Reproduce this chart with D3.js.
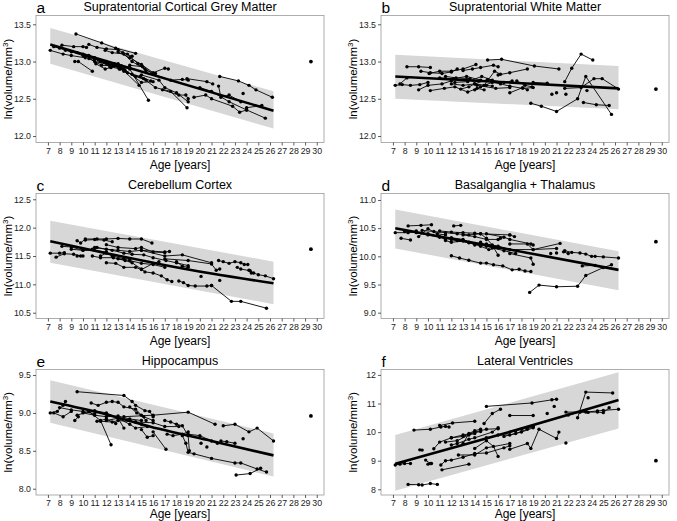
<!DOCTYPE html>
<html><head><meta charset="utf-8">
<script src="https://cdn.jsdelivr.net/npm/d3@7"></script>
<style>body{margin:0;background:#fff}svg{display:block;font-family:"Liberation Sans",Arial,Helvetica,sans-serif}</style>
</head><body><svg id="c" width="677" height="521"></svg>
<script>
// ---------- DATA ----------
const titles = ["Supratentorial Cortical Grey Matter","Supratentorial White Matter","Cerebellum Cortex","Basalganglia + Thalamus","Hippocampus","Lateral Ventricles"];
const letters = ["a","b","c","d","e","f"];
const xTickValues = [7,8,9,10,11,12,13,14,15,16,17,18,19,20,21,22,23,24,25,26,27,28,29,30];
const yTicksA = [12.0,12.5,13.0,13.5];
const yTicksB = [12.0,12.5,13.0,13.5];
const yTicksC = [10.5,11.0,11.5,12.0,12.5];
const yTicksD = [9.0,9.5,10.0,10.5,11.0];
const yTicksE = [8.0,8.5,9.0,9.5];
const yTicksF = [8,9,10,11,12];

// ribbon: [age, upper, lower]
const ribbonA = [[7.2,13.45,12.97],[26.3,12.60,12.10]];
const ribbonB = [[7.2,13.09,12.50],[26.3,12.94,12.36]];
const ribbonC = [[7.2,12.12,11.38],[26.3,11.40,10.65]];
const ribbonD = [[7.2,10.83,10.14],[26.3,10.09,9.40]];
const ribbonE = [[7.2,9.43,8.87],[26.3,8.73,8.16]];
const ribbonF = [[7.2,9.90,7.95],[26.3,12.09,10.13]];

const fitA = [[7.2,13.23],[26.3,12.34]];
const fitB = [[7.2,12.80],[26.3,12.64]];
const fitC = [[7.2,11.76],[12,11.55],[16.5,11.36],[21,11.19],[26.3,11.02]];
const fitD = [[7.2,10.50],[26.3,9.76]];
const fitE = [[7.2,9.15],[12,8.98],[16.5,8.79],[21,8.63],[26.3,8.44]];
const fitF = [[7.2,8.89],[16.5,9.95],[26.3,11.12]];

const outlierA = [29.5,13.0];
const outlierB = [29.5,12.63];
const outlierC = [29.5,11.62];
const outlierD = [29.5,10.26];
const outlierE = [29.5,8.96];
const outlierF = [29.5,9.0];

const subjectsA = [
 [[7.2,13.15],[8.3,13.1],[9.0,13.08],[10.2,13.05]],
 [[8.2,13.22],[9.2,13.2],[10.0,13.2],[10.3,13.19]],
 [[9.4,13.37],[11.6,13.25],[12.8,13.18],[14.5,13.11]],
 [[10.5,13.23],[11.2,13.19],[12.0,13.17],[13.0,13.16],[13.4,13.12],[14.2,13.07]],
 [[9.3,13.0],[9.6,13.0],[10.8,12.87]],
 [[10.0,13.1],[11.0,13.0],[12.5,12.95],[14.0,12.9],[15.6,12.48]],
 [[11.0,13.05],[12.0,13.0],[13.0,12.95],[14.8,12.68]],
 [[8.5,13.15],[9.5,13.12],[10.5,13.08],[11.8,13.0]],
 [[11.5,13.0],[12.3,12.93],[13.2,12.9],[14.5,12.8],[15.4,12.75]],
 [[12.0,12.98],[13.5,12.9],[15.0,12.72],[16.0,12.73]],
 [[10.2,13.08],[11.3,13.02],[12.2,12.97],[13.3,12.94],[14.0,12.92]],
 [[12.6,12.95],[13.8,12.85],[15.2,12.77],[16.2,12.65],[17.5,12.6],[18.9,12.38]],
 [[13.0,13.13],[14.0,13.05],[15.0,12.96],[16.0,12.85],[17.0,12.91],[17.3,12.9]],
 [[11.9,13.15],[12.5,13.12],[13.5,13.1],[14.2,13.0],[15.3,12.9]],
 [[14.0,12.95],[15.1,12.93],[16.0,12.83],[17.5,12.75],[18.5,12.76],[19.0,12.75]],
 [[15.0,12.82],[16.5,12.75],[17.0,12.65],[18.0,12.58],[19.0,12.46]],
 [[16.8,12.62],[18.2,12.55],[18.8,12.55],[19.0,12.5]],
 [[18.9,12.77],[20.6,12.73],[21.1,12.7]],
 [[19.5,12.52],[20.5,12.55],[21.0,12.5],[22.8,12.4],[23.4,12.32],[24.0,12.35]],
 [[21.7,12.8],[23.3,12.74],[24.2,12.68],[24.8,12.62],[26.2,12.52]],
 [[21.6,12.67],[21.8,12.52],[22.5,12.55],[23.5,12.46]],
 [[20.0,12.65],[21.0,12.6],[22.5,12.46],[24.0,12.35],[25.6,12.24]],
 [[24.0,12.38],[25.3,12.41]],
 [[23.7,12.57]],
 [[7.5,13.2],[8.0,13.18],[9.0,13.13],[10.0,13.08],[11.0,13.03]],
 [[11.1,12.97],[11.9,12.9],[12.4,12.92],[13.0,12.97],[13.6,12.88]],
 [[12.7,12.97],[13.5,12.87],[14.2,12.83],[14.9,12.8],[15.8,12.74]],
 [[10.5,13.04],[11.6,12.95],[12.7,12.94],[13.1,12.9]],
 [[13.8,13.1],[14.7,12.97],[15.4,12.88],[16.2,12.84]]
];

const subjectsB = [
 [[7.2,12.68],[7.8,12.69],[8.5,12.68],[9.3,12.69],[10.0,12.72]],
 [[8.2,12.93],[9.2,12.93],[10.2,12.92]],
 [[7.6,12.7],[8.2,12.78]],
 [[9.4,12.87],[10.2,12.85],[11.2,12.84],[12.0,12.86],[12.5,12.9]],
 [[10.1,12.84],[11.0,12.87],[12.0,12.87],[13.0,12.9],[14.1,12.96]],
 [[15.1,13.02],[16.3,13.03],[19.1,12.94],[21.2,12.9]],
 [[9.2,12.62],[10.0,12.68],[11.2,12.7],[12.0,12.74]],
 [[10.2,12.61],[11.4,12.64],[12.3,12.66],[13.4,12.59],[14.2,12.64],[14.8,12.62]],
 [[11.0,12.78],[12.2,12.77],[13.3,12.8],[14.5,12.75],[15.5,12.73]],
 [[12.0,12.7],[13.0,12.68],[14.0,12.7],[15.1,12.76],[16.5,12.72],[17.2,12.74]],
 [[13.0,12.88],[13.8,12.9],[14.5,12.92],[15.6,12.95],[16.0,12.93]],
 [[11.5,12.8],[12.4,12.78],[13.6,12.77],[14.2,12.68],[15.8,12.64],[17.0,12.65]],
 [[12.8,12.63],[13.5,12.66],[14.0,12.7],[15.0,12.68],[15.5,12.67]],
 [[14.0,12.62],[14.5,12.66],[15.5,12.72],[16.2,12.7],[17.0,12.67],[18.1,12.64],[19.0,12.65]],
 [[16.0,12.82],[17.0,12.85],[18.5,12.9]],
 [[17.0,12.58],[18.1,12.65],[18.5,12.62]],
 [[18.8,12.44],[19.7,12.4],[21.0,12.33],[22.8,12.5],[23.5,12.8],[25.7,12.29]],
 [[21.7,12.73],[22.3,12.91],[23.1,13.1],[24.1,13.02]],
 [[23.3,12.45],[24.4,12.42],[25.5,12.41]],
 [[21.7,12.64],[23.1,12.65],[24.2,12.77],[24.9,12.77],[26.3,12.63]],
 [[19.0,12.72],[20.2,12.71]],
 [[20.6,12.56]],[[21.0,12.58]],[[21.8,12.56]],[[23.6,12.61]],
 [[17.6,12.74],[18.3,12.68],[18.9,12.66]],
 [[12.3,12.72],[13.4,12.73],[14.6,12.8],[15.5,12.75]],
 [[14.8,12.68],[15.7,12.87],[16.2,12.83]]
];

const subjectsC = [
 [[7.2,11.55],[8.0,11.55],[8.4,11.56]],
 [[7.7,11.48],[8.4,11.54],[9.2,11.53],[9.8,11.5]],
 [[8.2,11.67],[9.0,11.66],[10.0,11.6],[10.8,11.62]],
 [[9.5,11.77],[9.8,11.73],[10.2,11.8],[11.2,11.8],[12.0,11.8],[13.0,11.81],[14.0,11.8],[15.0,11.8],[15.9,11.73]],
 [[10.2,11.78],[11.0,11.79],[11.8,11.78],[12.5,11.75]],
 [[9.5,11.5],[10.0,11.5]],
 [[10.8,11.5],[11.5,11.47],[12.6,11.47],[13.6,11.42],[14.2,11.38],[15.0,11.27],[15.3,11.22],[16.0,11.2],[16.7,11.15],[17.2,11.08],[17.6,11.05]],
 [[18.2,11.06],[18.6,11.03],[19.0,10.98],[19.6,10.97],[20.6,10.97],[21.0,10.98]],
 [[21.0,10.98],[22.7,10.7],[23.5,10.7],[25.7,10.58]],
 [[12.0,11.38],[12.8,11.37],[13.5,11.3],[14.5,11.3],[15.0,11.26],[16.0,11.37],[16.5,11.4]],
 [[11.0,11.65],[12.0,11.62],[13.0,11.6],[14.0,11.58],[15.0,11.6],[17.0,11.57],[17.4,11.58]],
 [[12.0,11.7],[13.0,11.65],[14.5,11.63],[15.0,11.65],[16.0,11.57],[17.0,11.56]],
 [[15.0,11.6],[17.0,11.5],[18.5,11.52],[21.0,11.38]],
 [[17.0,11.45],[19.0,11.42],[21.0,11.36],[21.4,11.25],[21.7,11.27]],
 [[21.6,11.42],[22.0,11.4],[22.5,11.37],[23.0,11.4],[23.5,11.38],[23.8,11.35],[24.1,11.35]],
 [[23.2,11.3],[23.5,11.27],[24.3,11.24],[24.6,11.2],[25.0,11.17],[25.6,11.15],[26.3,11.1]],
 [[24.2,11.25],[24.4,11.2]],
 [[21.7,11.07]],[[20.1,11.14]],
 [[11.2,11.65],[12.5,11.6],[13.5,11.55],[14.2,11.53],[15.2,11.52],[16.0,11.47],[17.1,11.42],[18.0,11.38],[19.0,11.33]],
 [[13.0,11.45],[14.0,11.42],[15.0,11.37],[16.0,11.35],[17.0,11.3]],
 [[11.5,11.5],[12.0,11.55],[12.5,11.5],[13.5,11.45],[14.0,11.45]],
 [[9.0,11.62],[10.0,11.6],[11.0,11.6],[12.0,11.57]],
 [[18.0,11.4],[18.5,11.32],[19.0,11.3]]
];

const subjectsD = [
 [[7.2,10.42],[8.3,10.42],[9.0,10.45]],
 [[7.7,10.32],[8.5,10.29]],
 [[8.3,10.54],[9.4,10.55],[10.3,10.56]],
 [[9.2,10.35],[10.0,10.49],[10.8,10.4],[11.5,10.38]],
 [[12.0,10.01],[12.7,9.97],[13.5,9.93],[14.5,9.88],[15.0,9.88],[15.6,9.85],[16.4,9.83],[17.2,9.76],[17.8,9.77],[18.3,9.74],[18.8,9.73]],
 [[12.2,10.54],[12.8,10.55]],
 [[18.7,9.36],[19.5,9.49],[21.0,9.46],[22.8,9.47],[23.5,9.66],[25.0,9.8],[25.7,9.85]],
 [[21.7,10.1],[22.3,10.07],[23.0,10.06],[23.5,10.04],[24.0,10.0],[24.3,10.0],[25.0,9.99],[26.3,9.97]],
 [[21.6,10.08],[22.0,10.05]],
 [[23.2,9.83],[24.3,9.84]],
 [[17.0,10.38],[17.4,10.35]],
 [[17.0,10.22],[18.5,10.22],[19.0,10.12],[21.3,10.23]],
 [[17.0,10.05],[18.8,9.97],[19.0,9.86]],
 [[20.5,10.05]],[[21.0,10.06]],
 [[11.0,10.45],[12.0,10.43],[13.0,10.42],[14.0,10.41],[14.5,10.4],[15.0,10.32],[15.5,10.2],[16.0,10.02]],
 [[10.0,10.4],[11.0,10.35],[12.0,10.3],[12.5,10.28],[13.5,10.25],[14.5,10.18],[15.2,10.12],[16.0,10.15]],
 [[13.0,10.38],[14.0,10.35],[15.0,10.3],[16.0,10.3],[16.2,10.32]],
 [[9.5,10.46],[10.5,10.44],[11.5,10.42],[12.5,10.4],[13.5,10.38],[14.5,10.4],[17.0,10.38]],
 [[12.0,10.33],[13.0,10.3],[14.0,10.2],[15.0,10.22],[16.0,10.18],[17.0,10.12],[19.0,10.12],[21.0,10.14]],
 [[14.5,10.25],[15.0,10.18],[15.5,10.15],[16.5,10.1],[17.5,10.05]],
 [[8.0,10.44],[9.0,10.42],[10.0,10.38],[11.0,10.34],[11.5,10.3]],
 [[11.5,10.28],[12.0,10.25],[13.0,10.27],[13.5,10.24]],
 [[15.0,10.4],[16.5,10.34],[17.0,10.3],[18.8,10.22],[19.0,10.2]]
];

const subjectsE = [
 [[7.2,9.0],[7.8,9.02],[8.3,9.1],[8.5,9.15]],
 [[7.5,9.0],[8.3,8.95],[9.0,9.02]],
 [[9.5,9.28],[13.5,9.23],[14.2,9.15],[14.5,9.1],[15.3,9.03],[15.7,9.02],[16.0,8.95]],
 [[9.3,8.9],[9.6,8.95]],
 [[9.5,8.97],[10.5,9.02],[11.5,8.9],[12.4,8.58]],
 [[10.7,9.13],[11.3,9.1],[12.0,9.14],[12.5,9.15],[13.0,9.14],[13.5,9.08],[14.5,9.05],[15.0,8.97],[15.4,8.9]],
 [[11.0,9.03],[12.0,9.0],[13.0,8.93],[13.5,8.8]],
 [[11.5,8.89],[12.5,8.88],[13.0,8.9],[14.5,8.88],[15.0,8.85]],
 [[13.5,8.95],[16.0,8.97],[19.0,9.01],[21.3,8.85]],
 [[22.0,8.83],[23.0,8.85],[24.2,8.75],[24.9,8.8],[26.3,8.63]],
 [[15.0,8.78],[15.5,8.68],[16.0,8.7]],
 [[16.0,8.75],[17.1,8.52]],
 [[17.0,8.9],[17.5,8.88],[18.0,8.85],[18.5,8.83],[19.0,8.7],[19.1,8.5]],
 [[18.5,8.7],[18.8,8.6],[19.0,8.48],[19.5,8.46],[21.0,8.4],[23.0,8.34],[23.5,8.34],[24.9,8.26],[25.7,8.22]],
 [[23.1,8.18],[24.3,8.2],[25.2,8.27]],
 [[19.0,8.72],[20.0,8.7],[21.0,8.63],[21.5,8.6]],
 [[21.8,8.63],[22.3,8.62],[23.0,8.6]],
 [[20.1,8.6]],[[20.6,8.55]],[[23.7,8.66]],
 [[17.2,8.72],[17.7,8.7],[18.5,8.72],[19.0,8.75]],
 [[14.5,8.88],[16.0,8.87],[17.0,8.82],[18.2,8.82]],
 [[10.0,9.0],[11.0,8.97],[12.0,8.95],[13.0,8.96],[14.0,8.92],[15.0,8.9]],
 [[8.0,9.07],[9.0,9.04],[10.0,9.02],[11.0,8.99]],
 [[12.0,8.9],[13.0,8.93],[14.0,8.85],[14.5,8.8],[15.5,8.82]],
 [[11.2,8.89],[12.0,8.92],[12.8,8.86]],
 [[14.0,9.08],[14.6,9.0],[15.2,8.95],[16.0,8.9]]
];

const subjectsF = [
 [[7.2,8.85],[7.6,8.88],[8.0,8.9],[8.5,8.9]],
 [[8.3,8.17],[9.2,8.16],[9.5,8.15],[10.2,8.2],[10.8,8.17]],
 [[8.8,10.07],[10.2,10.1],[11.1,10.18],[11.5,10.2],[11.8,10.18]],
 [[11.0,10.23],[12.1,10.32],[14.0,10.38]],
 [[15.0,10.9],[18.9,11.02],[20.6,11.13],[21.0,11.15]],
 [[17.0,10.58],[19.0,10.58]],
 [[14.8,10.3],[15.5,10.65],[16.2,10.8]],
 [[9.3,9.38],[9.5,9.37]],
 [[9.8,9.02],[10.2,8.9]],
 [[10.0,8.88],[10.3,8.9]],
 [[10.5,9.42],[11.0,9.65],[12.0,9.8],[13.0,9.9],[14.5,10.02]],
 [[11.2,8.68],[13.5,8.88]],
 [[11.1,8.85],[11.5,9.0],[12.0,9.02],[13.0,9.12],[14.0,9.25],[15.0,9.27],[16.5,9.45],[17.0,9.52]],
 [[12.0,9.55],[12.5,9.6],[13.5,9.75],[14.0,9.8],[15.5,10.0],[16.0,10.15]],
 [[14.0,9.43],[15.0,9.7],[15.6,9.5],[16.0,9.15]],
 [[17.0,9.4],[18.5,9.6],[18.8,9.43],[19.5,10.1],[21.0,9.78],[21.2,10.0]],
 [[17.0,10.0],[17.5,10.05],[18.0,10.1],[19.0,10.2]],
 [[22.0,10.6],[23.0,10.7],[23.5,10.75],[23.7,10.69]],
 [[22.8,10.5],[23.5,11.4],[25.8,11.37]],
 [[23.7,11.2]],[[21.8,9.62]],[[20.2,10.65]],[[20.8,10.9]],
 [[21.8,10.7],[23.5,10.7],[24.5,10.74],[25.0,10.76],[26.3,10.8]],
 [[23.0,10.7],[24.5,10.7],[25.0,10.68],[25.5,10.85]],
 [[12.0,9.8],[13.0,9.85],[14.0,10.0],[15.0,10.1],[16.0,10.12]],
 [[13.0,9.6],[13.5,9.95],[14.0,10.05],[14.5,10.1]],
 [[12.6,9.2],[14.0,9.2],[15.0,9.45],[17.0,9.6]],
 [[15.0,9.8],[16.0,9.9],[17.0,9.9],[18.0,10.0],[19.0,10.15]],
 [[11.5,9.65],[12.5,9.7],[13.5,9.9],[14.0,9.95]],
 [[16.5,9.85],[17.5,9.95],[18.5,10.1],[19.0,10.2]]
];

// ---------- LAYOUT ----------
const panels = [
 {left:36, top:15.5, bottom:142.5, yDom:[11.913,13.618], yTicks:yTicksA, fmt:".1f", subj:subjectsA, fit:fitA, rib:ribbonA, out:outlierA},
 {left:381, top:15.5, bottom:142.5, yDom:[11.913,13.618], yTicks:yTicksB, fmt:".1f", subj:subjectsB, fit:fitB, rib:ribbonB, out:outlierB},
 {left:36, top:193.5, bottom:318.5, yDom:[10.398,12.602], yTicks:yTicksC, fmt:".1f", subj:subjectsC, fit:fitC, rib:ribbonC, out:outlierC},
 {left:381, top:193.5, bottom:318.5, yDom:[8.897,11.115], yTicks:yTicksD, fmt:".1f", subj:subjectsD, fit:fitD, rib:ribbonD, out:outlierD},
 {left:36, top:369.5, bottom:495, yDom:[7.917,9.573], yTicks:yTicksE, fmt:".1f", subj:subjectsE, fit:fitE, rib:ribbonE, out:outlierE},
 {left:381, top:369.5, bottom:495, yDom:[7.80,12.19], yTicks:yTicksF, fmt:"d", subj:subjectsF, fit:fitF, rib:ribbonF, out:outlierF}
];
const W = 288;
const svg = d3.select("#c");

panels.forEach((p,i)=>{
  const x = d3.scaleLinear().domain([5.98,30.62]).range([p.left,p.left+W]);
  const y = d3.scaleLinear().domain(p.yDom).range([p.bottom,p.top]);
  const g = svg.append("g");
  g.append("path").datum(p.rib)
   .attr("d", d3.area().x(d=>x(d[0])).y0(d=>y(d[2])).y1(d=>y(d[1])))
   .attr("fill","#d7d7d7");
  const line = d3.line().x(d=>x(d[0])).y(d=>y(d[1]));
  g.selectAll("path.s").data(p.subj.filter(s=>s.length>1)).join("path")
   .attr("class","s").attr("d",line).attr("fill","none").attr("stroke","#000").attr("stroke-width",0.9);
  g.selectAll("circle.pt").data(p.subj.flat()).join("circle")
   .attr("class","pt").attr("cx",d=>x(d[0])).attr("cy",d=>y(d[1])).attr("r",1.7).attr("fill","#000");
  g.append("path").datum(p.fit).attr("d", d3.line().x(d=>x(d[0])).y(d=>y(d[1])).curve(d3.curveMonotoneX))
   .attr("fill","none").attr("stroke","#000").attr("stroke-width",2.6);
  g.append("circle").attr("cx",x(p.out[0])).attr("cy",y(p.out[1])).attr("r",1.9).attr("fill","#000");
  g.append("rect").attr("x",p.left).attr("y",p.top).attr("width",W).attr("height",p.bottom-p.top)
   .attr("fill","none").attr("stroke","#9a9a9a").attr("stroke-width",0.8);
  const xa = g.append("g").attr("transform",`translate(0,${p.bottom})`)
   .call(d3.axisBottom(x).tickValues(xTickValues).tickSize(3).tickPadding(2).tickFormat(d3.format("d")));
  const ya = g.append("g").attr("transform",`translate(${p.left},0)`)
   .call(d3.axisLeft(y).tickValues(p.yTicks).tickSize(3).tickPadding(2).tickFormat(d3.format(p.fmt)));
  [xa,ya].forEach(a=>{
    a.select(".domain").remove();
    a.selectAll(".tick line").attr("stroke","#333").attr("stroke-width",0.8);
    a.selectAll("text").attr("fill","#222").style("font-size","8.8px").style("font-family","inherit");
  });
  g.append("text").attr("x",p.left+W/2).attr("y",p.top-4.5).attr("text-anchor","middle")
   .style("font-size","12.5px").attr("fill","#000").text(titles[i]);
  g.append("text").attr("x",p.left+0.5).attr("y",p.top-3).style("font-size","15.5px").attr("fill","#000").text(letters[i]);
  g.append("text").attr("x",p.left+W/2).attr("y",Math.min(p.bottom+26,518)).attr("text-anchor","middle")
   .style("font-size","12px").attr("fill","#000").text("Age [years]");
  const yl = g.append("text").attr("transform",`translate(${p.left-24},${(p.top+p.bottom)/2}) rotate(-90)`)
   .attr("text-anchor","middle").style("font-size","11.5px").attr("fill","#000");
  yl.append("tspan").text("ln(volume/mm");
  yl.append("tspan").attr("dy",-4).style("font-size","8px").text("3");
  yl.append("tspan").attr("dy",4).text(")");
});
</script></body></html>
